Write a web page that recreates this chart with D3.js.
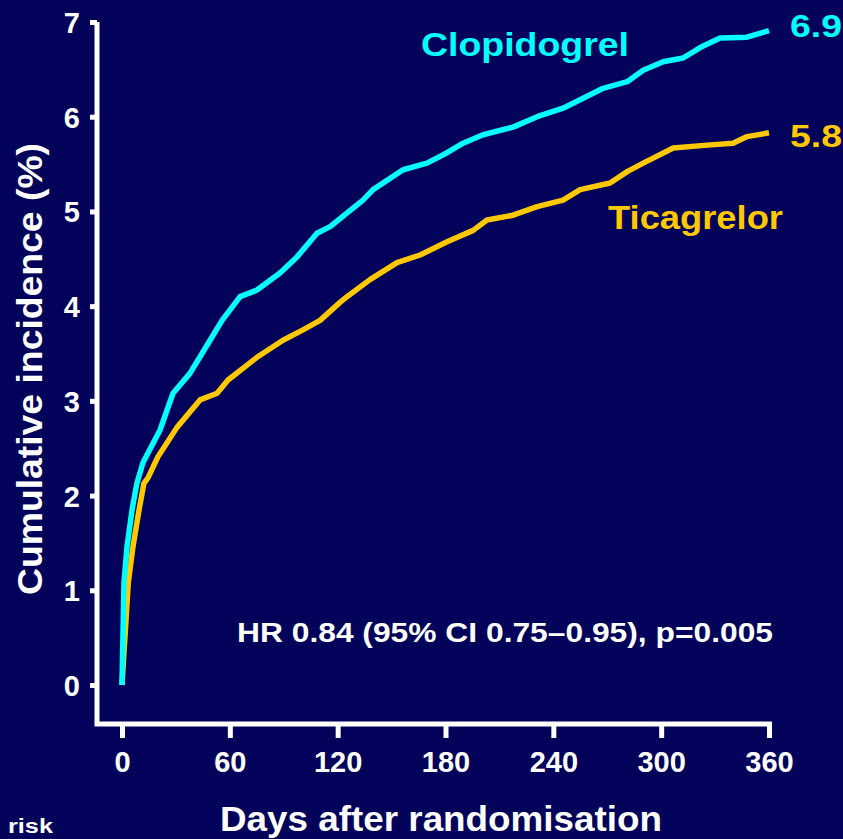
<!DOCTYPE html>
<html>
<head>
<meta charset="utf-8">
<script src="https://cdn.jsdelivr.net/npm/d3@7"></script>
<style>
  html, body { margin: 0; padding: 0; background: #02025a; }
  svg { display: block; font-family: "Liberation Sans", Arial, Helvetica, sans-serif; font-weight: bold; }
</style>
</head>
<body>
<div id="chart"></div>
<script>
// days after randomisation, cumulative incidence (%)
var clopiDays = [0, 1.1, 2.8, 5.6, 8.3, 11.7, 21.1, 28.4, 37.8, 49, 55.7, 65.7, 75.1, 87.9, 97.4, 108.5, 115.8, 134.1, 139.7, 156.4, 169.7, 180.9, 189.8, 200.9, 217.6, 231, 245.4, 254.9, 267.7, 281.1, 290, 301.1, 312.2, 321.7, 332.8, 347.8, 360];
var clopiVals = [0, 1.08, 1.46, 1.85, 2.13, 2.35, 2.69, 3.08, 3.29, 3.64, 3.85, 4.10, 4.17, 4.35, 4.52, 4.77, 4.84, 5.12, 5.23, 5.44, 5.51, 5.62, 5.72, 5.81, 5.89, 6.0, 6.09, 6.18, 6.30, 6.37, 6.49, 6.58, 6.62, 6.73, 6.83, 6.84, 6.91];

var ticaDays = [0, 3.5, 6.1, 9.5, 12.2, 14.5, 20, 30.6, 43.4, 52.9, 59, 75.1, 89.6, 100.7, 110.2, 121.3, 125.2, 138, 153, 165.9, 180.9, 195.4, 203.1, 217.6, 231, 245.4, 254.9, 271.6, 281.1, 290, 306.7, 325.6, 340, 347.8, 360];
var ticaVals = [0, 1.08, 1.46, 1.85, 2.13, 2.19, 2.41, 2.72, 3.01, 3.08, 3.22, 3.46, 3.64, 3.75, 3.85, 4.04, 4.10, 4.28, 4.46, 4.54, 4.68, 4.80, 4.91, 4.96, 5.05, 5.12, 5.23, 5.30, 5.42, 5.51, 5.67, 5.70, 5.72, 5.79, 5.83];

var xTicks = [0, 60, 120, 180, 240, 300, 360];
var yTicks = [0, 1, 2, 3, 4, 5, 6, 7];

var width = 843,
    height = 839,
    cyan = "#00ffff",
    gold = "#ffc800";

var svg = d3.select("#chart")
            .append("svg")
            .attr("width", width)
            .attr("height", height);

svg.append("rect")
   .attr("width", width)
   .attr("height", height)
   .attr("fill", "#02025a");

var x = d3.scaleLinear().domain([0, 360]).range([122, 769]);
var y = d3.scaleLinear().domain([0, 7]).range([685, 22]);

// axes
var xAxis = svg.append("g")
               .attr("transform", "translate(0,724)")
               .call(d3.axisBottom(x).tickValues(xTicks).tickSize(14).tickPadding(13).tickFormat(d3.format("d")));
xAxis.select(".domain").remove();
xAxis.selectAll("line").attr("stroke", "#fff").attr("stroke-width", 5);
xAxis.selectAll("text").attr("fill", "#fff").style("font-size", "29px").style("font-weight", "bold").style("font-family", "inherit");

var yAxis = svg.append("g")
               .attr("transform", "translate(97,0)")
               .call(d3.axisLeft(y).tickValues(yTicks).tickSize(7).tickPadding(10).tickFormat(d3.format("d")));
yAxis.select(".domain").remove();
yAxis.selectAll("line").attr("stroke", "#fff").attr("stroke-width", 5);
yAxis.selectAll("text").attr("fill", "#fff").attr("dy", "0.36em").style("font-size", "29px").style("font-weight", "bold").style("font-family", "inherit");

svg.append("path")
   .attr("d", "M97," + y(7) + "V724H" + (x(360) + 3))
   .attr("fill", "none")
   .attr("stroke", "#fff")
   .attr("stroke-width", 5);

// curves
var line = d3.line()
             .x((d) => x(d[0]))
             .y((d) => y(d[1]));

var clopi = clopiDays.map((d, i) => [d, clopiVals[i]]);
var tica = ticaDays.map((d, i) => [d, ticaVals[i]]);

svg.append("path")
   .attr("d", line(tica))
   .attr("fill", "none")
   .attr("stroke", gold)
   .attr("stroke-width", 5.5)
   .attr("stroke-linejoin", "round");

svg.append("path")
   .attr("d", line(clopi))
   .attr("fill", "none")
   .attr("stroke", cyan)
   .attr("stroke-width", 5.5)
   .attr("stroke-linejoin", "round");

// labels
function label(txt, px, py, size, len, color, anchor) {
  return svg.append("text")
            .attr("x", px).attr("y", py)
            .attr("fill", color)
            .attr("text-anchor", anchor || "start")
            .attr("textLength", len)
            .attr("lengthAdjust", "spacingAndGlyphs")
            .style("font-size", size + "px")
            .text(txt);
}

label("Clopidogrel", 421, 56, 34, 208, cyan);
label("6.9", 790, 37, 31, 52, cyan);
label("5.8", 790, 147, 31, 52, gold);
label("Ticagrelor", 608, 229, 33, 175, gold);
label("HR 0.84 (95% CI 0.75\u20130.95), p=0.005", 237, 642, 27, 536, "#fff");
label("Days after randomisation", 220, 831, 35, 442, "#fff");
label("risk", 8, 833, 20, 45, "#fff");

svg.append("text")
   .attr("transform", "translate(42,369) rotate(-90)")
   .attr("fill", "#fff")
   .attr("text-anchor", "middle")
   .attr("textLength", 452)
   .attr("lengthAdjust", "spacingAndGlyphs")
   .style("font-size", "35px")
   .text("Cumulative incidence (%)");
</script>
</body>
</html>
